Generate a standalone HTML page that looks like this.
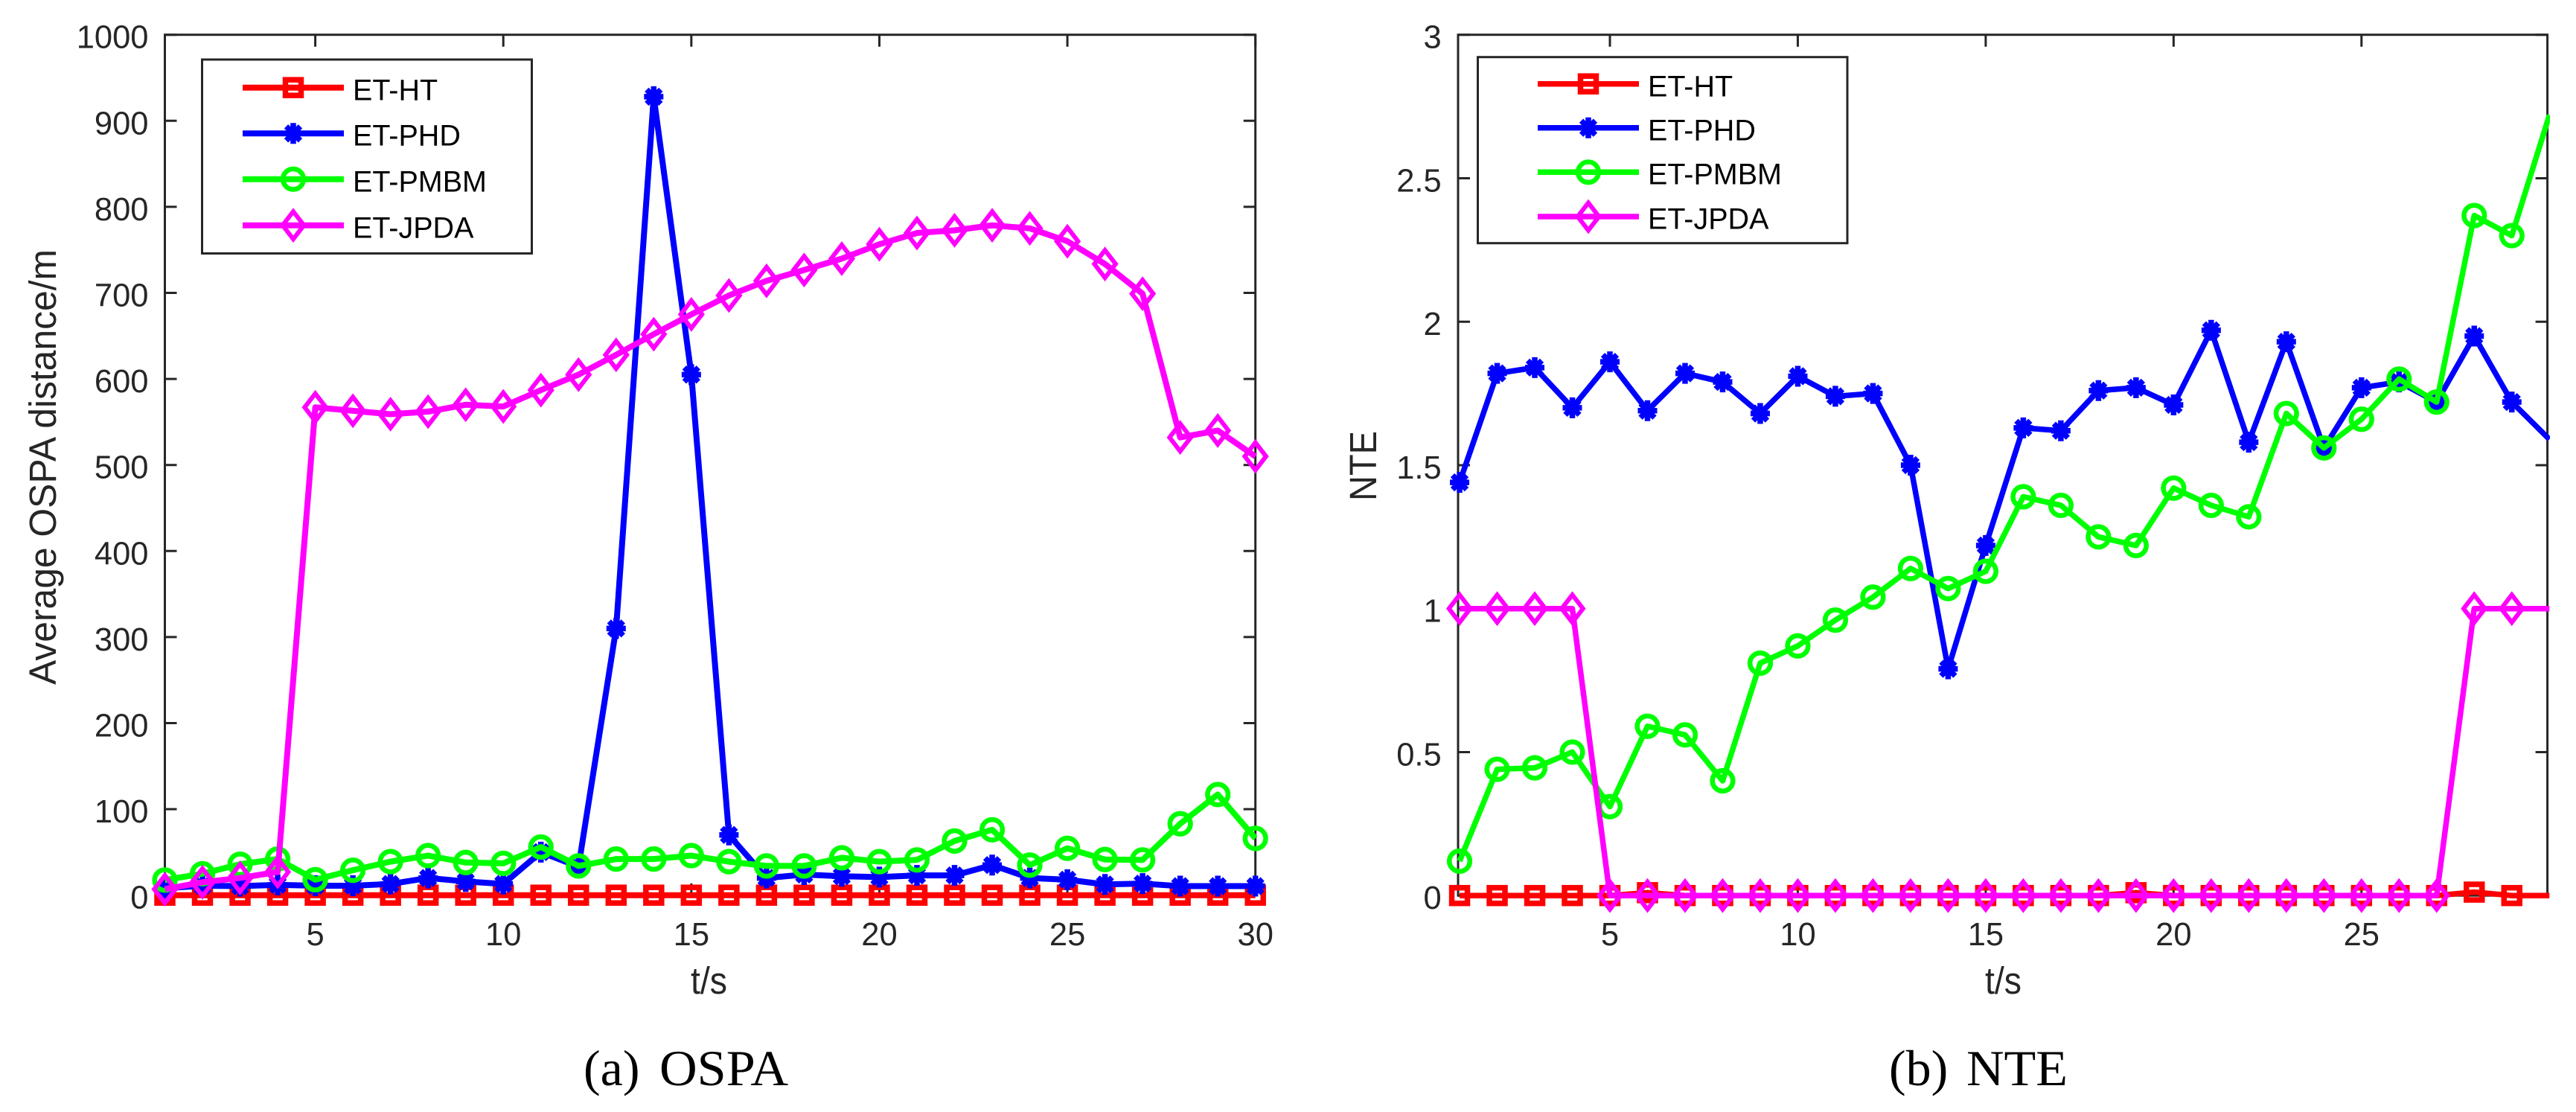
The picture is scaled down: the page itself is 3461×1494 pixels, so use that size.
<!DOCTYPE html>
<html lang="en">
<head>
<meta charset="utf-8">
<title>OSPA and NTE comparison</title>
<style>
html,body{margin:0;padding:0;background:#fff;}
svg{display:block;}
.sans{font-family:"Liberation Sans",Arial,sans-serif;}
.serif{font-family:"Liberation Serif","Times New Roman",serif;}
.leg{font-size:39.5px;fill:#000;}
.tick{font-size:43.5px;fill:#262626;}
.ttl{fill:#262626;}
</style>
</head>
<body>
<svg id="figure" xmlns="http://www.w3.org/2000/svg" width="3461" height="1494" viewBox="0 0 3461 1494">
  <rect x="0" y="0" width="3461" height="1494" fill="#fff"/>
  <defs>
    <clipPath id="clipA"><rect x="190" y="30" width="1499" height="1200"/></clipPath>
    <clipPath id="clipB"><rect x="1930" y="30" width="1496" height="1200"/></clipPath>
  </defs>
  <g id="panelA"></g>
  <g id="panelB"></g>

  <text class="sans ttl" font-size="51" text-anchor="start" textLength="585" lengthAdjust="spacingAndGlyphs" transform="translate(75,920) rotate(-90)">Average OSPA distance/m</text>
  <text class="sans ttl" font-size="51" x="928" y="1335" textLength="49" lengthAdjust="spacingAndGlyphs">t/s</text>
  <text class="sans ttl" font-size="51" textLength="94" lengthAdjust="spacingAndGlyphs" transform="translate(1849,673) rotate(-90)">NTE</text>
  <text class="sans ttl" font-size="51" x="2667" y="1335" textLength="49" lengthAdjust="spacingAndGlyphs">t/s</text>

  <text class="serif" font-size="68" fill="#000" y="1458"><tspan x="784">(a)</tspan><tspan x="886" textLength="173" lengthAdjust="spacingAndGlyphs">OSPA</tspan></text>
  <text class="serif" font-size="68" fill="#000" y="1458"><tspan x="2538">(b)</tspan><tspan x="2642" textLength="136" lengthAdjust="spacingAndGlyphs">NTE</tspan></text>

  <g id="legendA">
    <rect x="271.5" y="80" width="443" height="260.5" fill="#fff" stroke="#262626" stroke-width="3"/>
    <text class="sans leg" x="474" y="134.3">ET-HT</text>
    <text class="sans leg" x="474" y="195.7">ET-PHD</text>
    <text class="sans leg" x="474" y="257.3">ET-PMBM</text>
    <text class="sans leg" x="474" y="319.3">ET-JPDA</text>
  </g>
  <g id="legendB">
    <rect x="1985.5" y="76.7" width="496.5" height="250" fill="#fff" stroke="#262626" stroke-width="3"/>
    <text class="sans leg" x="2214" y="129.3">ET-HT</text>
    <text class="sans leg" x="2214" y="188.3">ET-PHD</text>
    <text class="sans leg" x="2214" y="247.3">ET-PMBM</text>
    <text class="sans leg" x="2214" y="307.3">ET-JPDA</text>
  </g>
</svg>
<script>
// ---- data ----
const timeSteps = [1,2,3,4,5,6,7,8,9,10,11,12,13,14,15,16,17,18,19,20,21,22,23,24,25,26,27,28,29,30];

const ospaHT   = [0,0,0,0,0,0,0,0,0,0,0,0,0,0,0,0,0,0,0,0,0,0,0,0,0,0,0,0,0,0];
const ospaPHD  = [8,11,10.5,12,11,11,13,20,16,13,50,33,310,928,605,70,20,24,22,21,23,23,35,20,18,12.5,13.5,10.5,10.5,10.5];
const ospaPMBM = [17.6,25,36,42,18,29,39,46,38,37,56,34,42,42,46,39,34,34,43.5,39,41,63,76,35,54.5,41.5,41,83,117,66];
const ospaJPDA = [7,15,20,27,567,563,559,562,570,568,587,605,628,652,675,697,714,726.6,739.8,756.5,769.6,772.7,778.5,775,760,733.6,699,532,540,510];

const nteHT   = [0,0,0,0,0,0.01,0,0,0,0,0,0,0,0,0,0,0,0,0.01,0,0,0,0,0,0,0,0,0.012,0,0];
const ntePHD  = [1.44,1.82,1.84,1.70,1.86,1.69,1.82,1.79,1.68,1.81,1.74,1.75,1.50,0.79,1.22,1.63,1.62,1.76,1.77,1.71,1.97,1.58,1.93,1.56,1.77,1.79,1.72,1.95,1.72,1.59];
const ntePMBM = [0.12,0.44,0.445,0.50,0.31,0.59,0.56,0.40,0.81,0.87,0.96,1.04,1.14,1.07,1.13,1.39,1.36,1.25,1.22,1.42,1.36,1.32,1.68,1.56,1.66,1.80,1.72,2.37,2.30,2.72];
const nteJPDA = [1,1,1,1,0,0,0,0,0,0,0,0,0,0,0,0,0,0,0,0,0,0,0,0,0,0,0,1,1,1];

const ospaYTicks = [0,100,200,300,400,500,600,700,800,900,1000];
const ospaXTicks = [5,10,15,20,25,30];
const nteYTicks  = [0,0.5,1,1.5,2,2.5,3];
const nteXTicks  = [5,10,15,20,25];

// ---- helpers ----
const NS = 'http://www.w3.org/2000/svg';
const INK = '#262626';
function make(tag, attrs, parent) {
  const el = document.createElementNS(NS, tag);
  for (const k in attrs) el.setAttribute(k, attrs[k]);
  parent.appendChild(el);
  return el;
}
function drawMarker(kind, cx, cy, color, parent) {
  const g = make('g', {transform: 'translate(' + cx + ',' + cy + ')', fill: 'none', stroke: color}, parent);
  
  
  if (kind === 'square') {
    make('rect', {x: -10.5, y: -10.5, width: 21, height: 21, 'stroke-width': 7.5}, g);
  } else if (kind === 'circle') {
    make('circle', {r: 13.8, 'stroke-width': 6.6}, g);
  } else if (kind === 'diamond') {
    make('polygon', {points: '0,-18.5 14.3,0 0,18.5 -14.3,0', 'stroke-width': 6, 'stroke-miterlimit': 10}, g);
  } else {
    make('path', {d: 'M0,-14V14M-13,0H13M-9.5,-9.5L9.5,9.5M-9.5,9.5L9.5,-9.5', 'stroke-width': 7.5}, g);
  }
}
const seriesStyle = [
  {key: 'et-ht',   color: '#ff0000', marker: 'square'},
  {key: 'et-phd',  color: '#0000ff', marker: 'star'},
  {key: 'et-pmbm', color: '#00ff00', marker: 'circle'},
  {key: 'et-jpda', color: '#ff00ff', marker: 'diamond'}
];

function drawPanel(opt) {
  const root = document.getElementById(opt.id);
  const x = opt.xScale, y = opt.yScale;
  const L = opt.left, R = opt.right, T = opt.top, B = opt.bottom;

  // axes box
  const box = make('rect', {x: L, y: T, width: R - L, height: B - T, fill: 'none', stroke: INK, 'stroke-width': 3}, root);
  
  

  // x ticks
  opt.xTicks.forEach(function (t) {
    const px = x(t);
    const tk = make('path', {d: 'M' + px + ',' + B + 'V' + (B - 16) + 'M' + px + ',' + T + 'V' + (T + 16), stroke: INK, 'stroke-width': 3, fill: 'none'}, root);
    
    
    const lb = make('text', {x: px, y: 1270, 'text-anchor': 'middle', 'class': 'sans tick'}, root);
    
    
    lb.textContent = String(t);
  });
  // y ticks
  opt.yTicks.forEach(function (v) {
    const py = y(v);
    const tk = make('path', {d: 'M' + L + ',' + py + 'H' + (L + 16) + 'M' + R + ',' + py + 'H' + (R - 16), stroke: INK, 'stroke-width': 3, fill: 'none'}, root);
    
    
    const lb = make('text', {x: opt.labelRight, y: py + 18, 'text-anchor': 'end', 'class': 'sans tick'}, root);
    
    
    lb.textContent = String(v);
  });

  // series
  opt.series.forEach(function (values, i) {
    const st = seriesStyle[i];
    const g = make('g', {}, root);
    
    
    const pts = values.map(function (v, j) { return x(timeSteps[j]).toFixed(2) + ',' + y(v).toFixed(2); }).join(' ');
    const line = make('polyline', {points: pts, fill: 'none', stroke: st.color, 'stroke-width': opt.lineWidth, 'stroke-linejoin': 'round', 'clip-path': 'url(#' + opt.clip + ')'}, g);
    
    
    values.forEach(function (v, j) {
      if (x(timeSteps[j]) <= R + 1) drawMarker(st.marker, x(timeSteps[j]), y(v), st.color, g);
    });
  });

  // legend samples
  const lg = document.getElementById(opt.legendId);
  opt.legendRows.forEach(function (rowY, i) {
    const st = seriesStyle[i];
    const row = make('g', {}, lg);
    
    
    make('path', {d: 'M' + opt.legendX0 + ',' + rowY + 'H' + opt.legendX1, stroke: st.color, 'stroke-width': opt.lineWidth, fill: 'none'}, row);
    drawMarker(st.marker, (opt.legendX0 + opt.legendX1) / 2, rowY, st.color, row);
  });
}

drawPanel({
  id: 'panelA', legendId: 'legendA', prefix: 'ospa', clip: 'clipA',
  left: 221.5, right: 1686.7, top: 46.7, bottom: 1202.7, labelRight: 199.5, lineWidth: 8,
  xScale: function (t) { return 221.5 + (t - 1) * 50.524; },
  yScale: function (v) { return 1202.7 - v * 1.156; },
  xTicks: ospaXTicks, yTicks: ospaYTicks,
  series: [ospaHT, ospaPHD, ospaPMBM, ospaJPDA],
  legendRows: [117.7, 179.3, 240.7, 302.7], legendX0: 326, legendX1: 462
});
drawPanel({
  id: 'panelB', legendId: 'legendB', prefix: 'nte', clip: 'clipB',
  left: 1959, right: 3422.6, top: 46.7, bottom: 1203.2, labelRight: 1936.7, lineWidth: 7.5,
  xScale: function (t) { return 2163 + (t - 5) * 50.49; },
  yScale: function (v) { return 1203.2 - v * 385.5; },
  xTicks: nteXTicks, yTicks: nteYTicks,
  series: [nteHT, ntePHD, ntePMBM, nteJPDA],
  legendRows: [112.7, 171.7, 231.3, 291], legendX0: 2066, legendX1: 2202
});
</script>
</body>
</html>
